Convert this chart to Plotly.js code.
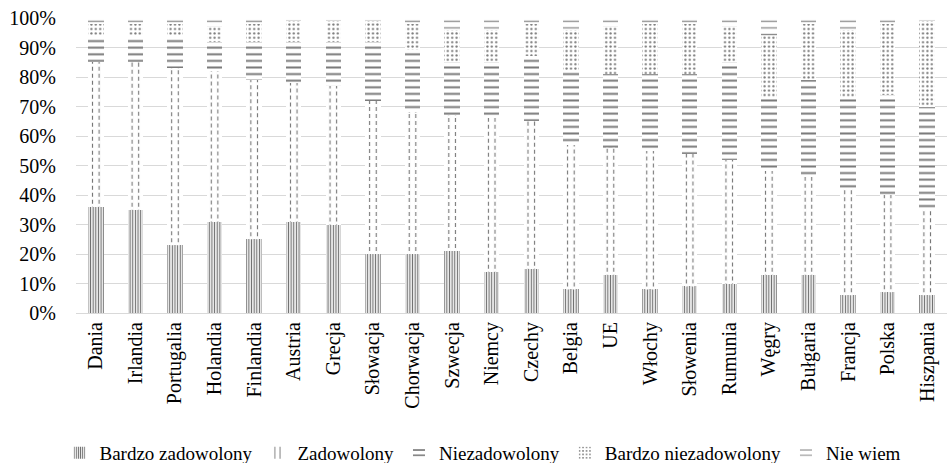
<!DOCTYPE html>
<html>
<head>
<meta charset="utf-8">
<script src="https://cdn.plot.ly/plotly-3.0.1.min.js"></script>
<style>
  html, body { margin: 0; padding: 0; background: #fff; }
  #chart { width: 947px; height: 463px; }
</style>
</head>
<body>
<div id="chart"></div>
<script>
// Satisfaction with services, share of answers per country (%)
const countries = ['Dania', 'Irlandia', 'Portugalia', 'Holandia', 'Finlandia', 'Austria',
  'Grecja', 'Słowacja', 'Chorwacja', 'Szwecja', 'Niemcy', 'Czechy', 'Belgia', 'UE',
  'Włochy', 'Słowenia', 'Rumunia', 'Węgry', 'Bułgaria', 'Francja', 'Polska', 'Hiszpania'];

const bardzoZadowolony    = [36, 35, 23, 31, 25, 31, 30, 20, 20, 21, 14, 15, 8, 13, 8, 9, 10, 13, 13, 6, 7, 6];
const zadowolony          = [49, 50, 60, 51, 54, 47, 47, 52, 48, 46, 52, 50, 49, 43, 47, 45, 42, 35, 33, 36, 33, 29];
const niezadowolony       = [9, 9, 11, 10, 13, 14, 15, 20, 21, 18, 19, 22, 25, 25, 26, 27, 33, 25, 33, 31, 34, 35];
const bardzoNiezadowolony = [4, 4, 4, 5, 6, 7, 7, 7, 9, 11, 11, 11, 14, 16, 17, 17, 12, 21, 19, 23, 24, 29];
const nieWiem             = [2, 2, 2, 3, 2, 1, 1, 1, 2, 4, 4, 2, 4, 3, 2, 2, 3, 6, 2, 4, 2, 1];

const seriesNames = ['Bardzo zadowolony', 'Zadowolony', 'Niezadowolony', 'Bardzo niezadowolony', 'Nie wiem'];

const FONT = "'Liberation Serif', 'Times New Roman', serif";
const plotW = 947 - 76;
const catW = plotW / countries.length;
const vStep = catW / 6;            // pattern tile that puts two stripes in each bar
const BAR_FRAC = 0.39;

function barTrace(name, values, pattern) {
  return {
    type: 'bar', name: name, x: countries, y: values,
    marker: { color: '#ffffff', line: { width: 0 }, pattern: pattern },
    hoverinfo: 'x+y+name'
  };
}

const traces = [
  barTrace(seriesNames[0], bardzoZadowolony,
    { shape: '|', size: catW / 15, solidity: 0.45, fgcolor: '#6f6f6f', bgcolor: '#ffffff', fillmode: 'replace' }),
  barTrace(seriesNames[1], zadowolony,
    { shape: '|', size: vStep, solidity: 0.17, fgcolor: '#777777', bgcolor: '#ffffff', fillmode: 'replace' }),
  barTrace(seriesNames[2], niezadowolony,
    { shape: '-', size: vStep, solidity: 0.3, fgcolor: '#7a7a7a', bgcolor: '#ffffff', fillmode: 'replace' }),
  barTrace(seriesNames[3], bardzoNiezadowolony,
    { shape: '.', size: 4.4, solidity: 0.2, fgcolor: '#777777', bgcolor: '#ffffff', fillmode: 'replace' }),
  barTrace(seriesNames[4], nieWiem,
    { shape: '-', size: vStep, solidity: 0.2, fgcolor: '#8c8c8c', bgcolor: '#ffffff', fillmode: 'replace' })
];

// White dashes laid over the "Zadowolony" stripes turn them into dashed lines
const gapX = [], gapY = [];
countries.forEach(function (c, i) {
  const lo = bardzoZadowolony[i];
  const hi = bardzoZadowolony[i] + zadowolony[i];
  [-1, 1].forEach(function (side) {
    const xx = i + side * (vStep / 2) / catW;
    gapX.push(xx, xx, null);
    gapY.push(lo, hi, null);
  });
});
traces.push({
  type: 'scatter', mode: 'lines', x: gapX, y: gapY, xaxis: 'x2', yaxis: 'y',
  line: { color: '#ffffff', width: 2.6, dash: '3px,4px' },
  showlegend: false, hoverinfo: 'skip', connectgaps: false
});

const layout = {
  width: 947, height: 463,
  margin: { l: 76, r: 0, t: 18, b: 150, pad: 0 },
  paper_bgcolor: '#ffffff', plot_bgcolor: '#ffffff',
  barmode: 'stack',
  bargap: 1 - BAR_FRAC,
  font: { family: FONT, size: 20, color: '#000000' },
  showlegend: true,
  legend: {
    orientation: 'h', xref: 'container', yref: 'container',
    x: 0.51, xanchor: 'center', y: 0.022, yanchor: 'middle',
    font: { family: FONT, size: 19, color: '#000000' },
    traceorder: 'normal', itemwidth: 30
  },
  xaxis: {
    type: 'category', tickangle: -90, showgrid: false,
    showline: true, linecolor: '#d9d9d9', linewidth: 1,
    ticks: '', tickfont: { family: FONT, size: 20, color: '#000000' },
    fixedrange: true
  },
  xaxis2: {
    overlaying: 'x', range: [-0.5, countries.length - 0.5],
    visible: false, showgrid: false, zeroline: false, fixedrange: true
  },
  yaxis: {
    range: [0, 100], dtick: 10, ticksuffix: '%',
    showgrid: true, gridcolor: '#d9d9d9', gridwidth: 1, zeroline: false,
    ticks: '', ticklabelstandoff: 19,
    tickfont: { family: FONT, size: 20, color: '#000000' },
    fixedrange: true
  }
};

Plotly.newPlot('chart', traces, layout, { displayModeBar: false, staticPlot: true });
</script>
</body>
</html>
